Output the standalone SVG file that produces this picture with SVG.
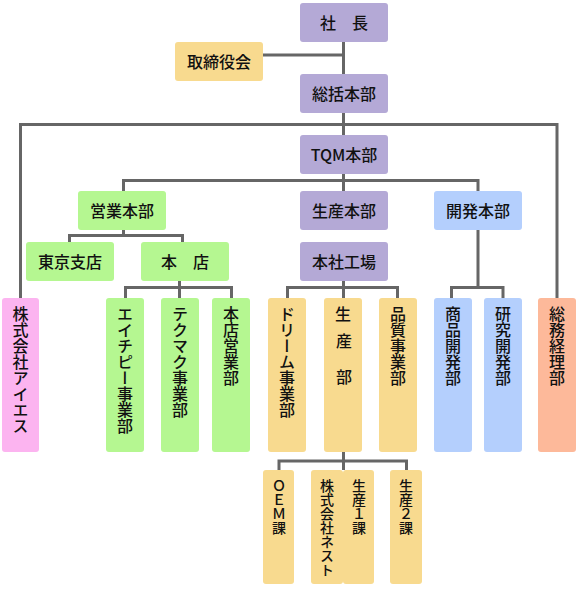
<svg xmlns="http://www.w3.org/2000/svg" width="579" height="600" viewBox="0 0 579 600">
<style>
  .pu{fill:#b4a9d6}.ye{fill:#f8da8f}.gr{fill:#b5f791}.bl{fill:#b4cffd}.pk{fill:#fcb4f0}.or{fill:#fdb99a}
  text{font-family:"Noto Sans CJK JP","Noto Sans CJK SC",sans-serif;fill:#111;font-weight:500}
  .h{font-size:16px;text-anchor:middle}
  .v{font-size:16px;writing-mode:vertical-rl;text-orientation:upright}
  .vs{font-size:14px;writing-mode:vertical-rl;text-orientation:upright}
  .c{fill:none;stroke:#666;stroke-width:3}
</style>
<rect width="579" height="600" fill="#fff"/>
<g id="connectors" class="c">
  <path d="M263,55H343.5M343.5,42V74"/>
  <path d="M343.5,113V135M20.5,298V124.5H557V298"/>
  <path d="M343.5,174V191M123.5,191V180.5H478V191"/>
  <path d="M123.5,230V235.5M69.5,242V235.5H182.5V242"/>
  <path d="M179.5,281V298M125.5,298V287.5H231.5V298"/>
  <path d="M343.5,281V298M287.5,298V287.5H397.5V298"/>
  <path d="M478,230V287.5M451.5,298V287.5H503V298"/>
  <path d="M343.5,452V470M279,470V461H406.5V470"/>
</g>
<g id="n-shacho"><rect class="pu" x="300" y="3" width="88" height="39" rx="3"/><text class="h" x="344" y="28.5">社　長</text></g>
<g id="n-torishimariyaku"><rect class="ye" x="175" y="42" width="88" height="39" rx="3"/><text class="h" x="219" y="67.5">取締役会</text></g>
<g id="n-soukatsu"><rect class="pu" x="300" y="74" width="88" height="39" rx="3"/><text class="h" x="344" y="99.5">総括本部</text></g>
<g id="n-tqm"><rect class="pu" x="300" y="135" width="88" height="39" rx="3"/><text class="h" x="344" y="160.5">TQM本部</text></g>
<g id="n-eigyo"><rect class="gr" x="78" y="191" width="88" height="39" rx="3"/><text class="h" x="122" y="216.5">営業本部</text></g>
<g id="n-seisan"><rect class="pu" x="300" y="191" width="88" height="39" rx="3"/><text class="h" x="344" y="216.5">生産本部</text></g>
<g id="n-kaihatsu"><rect class="bl" x="434" y="191" width="88" height="39" rx="3"/><text class="h" x="478" y="216.5">開発本部</text></g>
<g id="n-tokyo"><rect class="gr" x="26" y="242" width="88" height="39" rx="3"/><text class="h" x="70" y="267.5">東京支店</text></g>
<g id="n-honten"><rect class="gr" x="141" y="242" width="88" height="39" rx="3"/><text class="h" x="185" y="267.5">本　店</text></g>
<g id="n-honsha"><rect class="pu" x="300" y="242" width="88" height="39" rx="3"/><text class="h" x="344" y="267.5">本社工場</text></g>
<g id="n-ies"><rect class="pk" x="2" y="298" width="37" height="154" rx="3"/><text class="v" x="20.5" y="306">株式会社アイエス</text></g>
<g id="n-hp"><rect class="gr" x="106" y="298" width="38" height="154" rx="3"/><text class="v" x="125" y="306">エイチピー事業部</text></g>
<g id="n-tekumaku"><rect class="gr" x="161" y="298" width="38" height="154" rx="3"/><text class="v" x="180" y="306">テクマク事業部</text></g>
<g id="n-hontenEigyo"><rect class="gr" x="212" y="298" width="38" height="154" rx="3"/><text class="v" x="231" y="306">本店営業部</text></g>
<g id="n-dream"><rect class="ye" x="268" y="298" width="38" height="154" rx="3"/><text class="v" x="287" y="306">ドリーム事業部</text></g>
<g id="n-seisanbu"><rect class="ye" x="324" y="298" width="38" height="154" rx="3"/><text class="h" x="343" y="320">生</text><text class="h" x="344" y="347">産</text><text class="h" x="344" y="383">部</text></g>
<g id="n-hinshitsu"><rect class="ye" x="379" y="298" width="38" height="154" rx="3"/><text class="v" x="398" y="306">品質事業部</text></g>
<g id="n-shohin"><rect class="bl" x="434" y="298" width="38" height="154" rx="3"/><text class="v" x="453" y="306">商品開発部</text></g>
<g id="n-kenkyu"><rect class="bl" x="484" y="298" width="38" height="154" rx="3"/><text class="v" x="503" y="306">研究開発部</text></g>
<g id="n-somu"><rect class="or" x="538" y="298" width="38" height="154" rx="3"/><text class="v" x="557" y="306">総務経理部</text></g>
<g id="n-oem"><rect class="ye" x="263" y="470" width="31" height="114" rx="3"/><text class="vs" x="279" y="479">ＯＥＭ課</text></g>
<g id="n-nest"><rect class="ye" x="311" y="470" width="32" height="114" rx="3"/><text class="vs" x="327" y="479">株式会社ネスト</text></g>
<g id="n-seisan1"><rect class="ye" x="343" y="470" width="31" height="114" rx="3"/><text class="vs" x="359" y="479">生産１課</text></g>
<g id="n-seisan2"><rect class="ye" x="390" y="470" width="32" height="114" rx="3"/><text class="vs" x="406" y="479">生産２課</text></g>
</svg>
